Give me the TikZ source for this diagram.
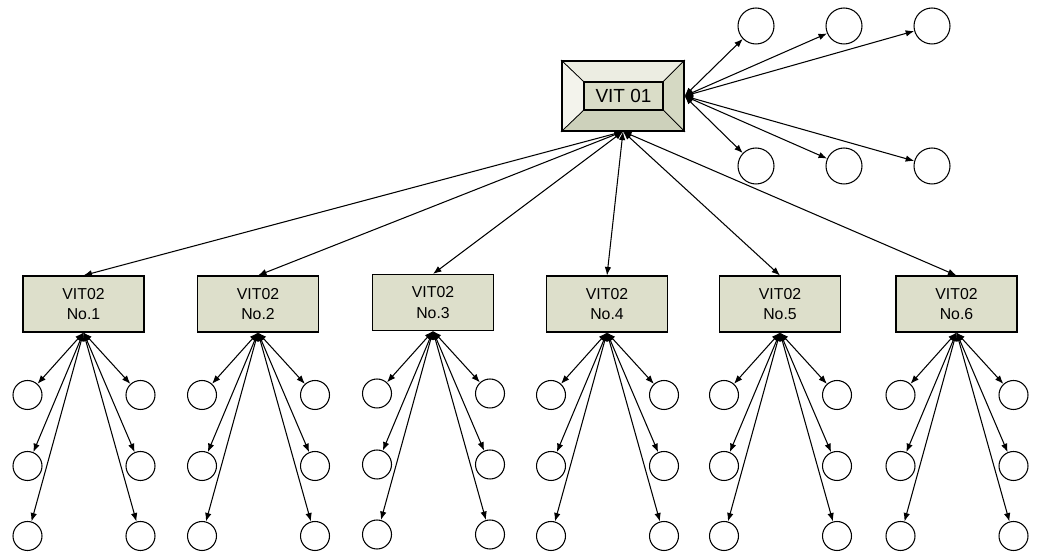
\documentclass[tikz,border=0pt]{standalone}
\usepackage{xcolor}
\usepackage{fontspec}
\setmainfont{Liberation Sans}
\usepackage{tikz}
\usetikzlibrary{positioning}
\usetikzlibrary{backgrounds}
\usetikzlibrary{arrows.meta}
\usetikzlibrary{calc}

\definecolor{boxfill}{HTML}{DDDFCB}
\definecolor{innerfill}{HTML}{DADDC8}
\definecolor{bevtop}{HTML}{ECEDE2}
\definecolor{bevleft}{HTML}{F3F3EC}
\definecolor{bevright}{HTML}{D5D9C3}
\definecolor{bevbottom}{HTML}{CDD1BB}

\tikzset{
  unit/.style={draw, fill=boxfill, minimum width=2.42cm, minimum height=1.12cm, inner sep=0pt, align=center, font=\fontsize{9}{11.5}\selectfont},
  leaf/.style={draw, circle, minimum size=0.58cm, inner sep=0pt},
  bigleaf/.style={draw, circle, minimum size=0.72cm, inner sep=0pt},
  link/.style={{Latex[length=1.7mm,width=1.3mm]}-{Latex[length=1.7mm,width=1.3mm]}, line width=0.6pt}
}

\begin{document}
\begin{tikzpicture}[x=0.02cm, y=-0.02cm, line width=0.6pt]
\useasboundingbox (0,0) rectangle (1038,553);

% main unit with bevel
\node[draw, minimum width=2.44cm, minimum height=1.4cm, inner sep=0pt] (vit01) at (623,96) {};
\node[draw, fill=innerfill, minimum width=1.58cm, minimum height=0.56cm, inner sep=0pt, font=\fontsize{10.8}{13}\selectfont] (vit01in) at (623.5,96) {VIT 01};
\begin{scope}[on background layer]
\filldraw[fill=bevtop] (vit01.north west) -- (vit01.north east) -- (vit01in.north east) -- (vit01in.north west) -- cycle;
\filldraw[fill=bevleft] (vit01.north west) -- (vit01in.north west) -- (vit01in.south west) -- (vit01.south west) -- cycle;
\filldraw[fill=bevright] (vit01.north east) -- (vit01in.north east) -- (vit01in.south east) -- (vit01.south east) -- cycle;
\filldraw[fill=bevbottom] (vit01.south west) -- (vit01in.south west) -- (vit01in.south east) -- (vit01.south east) -- cycle;
\end{scope}

% circles of the main unit
\node[bigleaf] (top1) at (756,26) {};
\node[bigleaf] (top2) at (844,26) {};
\node[bigleaf] (top3) at (932,26) {};
\node[bigleaf] (bot1) at (756,166) {};
\node[bigleaf] (bot2) at (844,166) {};
\node[bigleaf] (bot3) at (932,166) {};

\draw[link] (vit01.east) -- (top1);
\draw[link] (vit01.east) -- (top2);
\draw[link] (vit01.east) -- (top3);
\draw[link] (vit01.east) -- (bot1);
\draw[link] (vit01.east) -- (bot2);
\draw[link] (vit01.east) -- (bot3);

% second level units
\node[unit] (b1) at (83.5,304) {VIT02\\No.1};
\node[unit] (b2) at (258,304) {VIT02\\No.2};
\node[unit] (b3) at (433,302.5) {VIT02\\No.3};
\node[unit] (b4) at (607,304) {VIT02\\No.4};
\node[unit] (b5) at (780,304) {VIT02\\No.5};
\node[unit] (b6) at (956.5,304) {VIT02\\No.6};

\foreach \b in {1,...,6} {
  \draw[link] (vit01.south) -- (b\b.north);
  \node[leaf] (b\b-l1) at ($(b\b)+(-56,91)$) {};
  \node[leaf] (b\b-l2) at ($(b\b)+(-56,162)$) {};
  \node[leaf] (b\b-l3) at ($(b\b)+(-56,232)$) {};
  \node[leaf] (b\b-r1) at ($(b\b)+(57,91)$) {};
  \node[leaf] (b\b-r2) at ($(b\b)+(57,162)$) {};
  \node[leaf] (b\b-r3) at ($(b\b)+(57,232)$) {};
  \draw[link] (b\b.south) -- (b\b-l1);
  \draw[link] (b\b.south) -- (b\b-l2);
  \draw[link] (b\b.south) -- (b\b-l3);
  \draw[link] (b\b.south) -- (b\b-r1);
  \draw[link] (b\b.south) -- (b\b-r2);
  \draw[link] (b\b.south) -- (b\b-r3);
}
\end{tikzpicture}
\end{document}
